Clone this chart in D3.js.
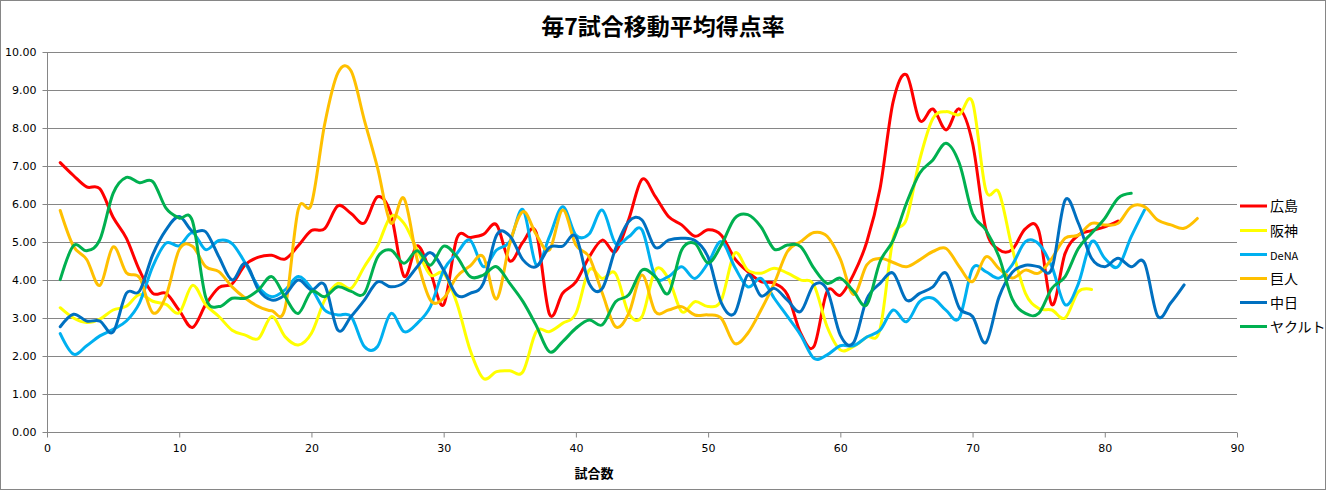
<!DOCTYPE html>
<html><head><meta charset="utf-8">
<script src="https://cdn.jsdelivr.net/npm/d3@7"></script>
<style>
html,body{margin:0;padding:0;background:#fff;}
svg{display:block;}
</style></head>
<body>
<svg id="chart" width="1327" height="491"></svg>
<script>
const title = "毎7試合移動平均得点率";
const xAxisTitle = "試合数";
const seriesNames = ["広島", "阪神", "DeNA", "巨人", "中日", "ヤクルト"];
const seriesColors = ["#FF0000", "#FFFF00", "#00B0F0", "#FFC000", "#0070C0", "#00B050"];
const xTicks = [0, 10, 20, 30, 40, 50, 60, 70, 80, 90];
const yTicks = [0, 1, 2, 3, 4, 5, 6, 7, 8, 9, 10];

const hiroshima = [7.09,6.75,6.45,6.4,5.65,5.1,4.25,3.65,3.65,3.2,2.75,3.35,3.8,3.9,4.4,4.6,4.65,4.55,4.9,5.3,
5.35,5.95,5.75,5.5,6.19,5.75,4.1,4.9,4.2,3.35,5.1,5.12,5.2,5.45,4.5,5.0,5.25,3.1,3.65,3.95,
4.6,5.05,4.75,5.6,6.65,6.2,5.67,5.45,5.15,5.32,5.18,4.57,4.22,3.96,3.91,3.61,2.6,2.25,3.7,3.6,
4.15,5.0,6.4,8.7,9.4,8.2,8.5,7.95,8.5,7.6,5.35,4.8,4.8,5.35,5.3,3.35,4.7,5.18,5.3,5.4,5.55];
const hanshin = [3.27,3.0,2.88,2.97,3.21,3.31,3.62,3.44,3.36,3.14,3.86,3.35,3.04,2.68,2.55,2.46,3.04,2.51,2.29,2.6,
3.47,3.91,3.78,4.35,4.9,5.67,5.49,4.79,4.13,4.18,3.39,2.16,1.41,1.59,1.61,1.59,2.64,2.64,2.86,3.12,
4.26,4.04,4.17,3.12,3.04,4.26,4.04,3.17,3.43,3.3,3.47,4.7,4.26,4.18,4.31,4.18,4.0,3.87,2.77,2.16,
2.25,2.5,2.7,5.1,5.6,7.16,8.25,8.43,8.35,8.68,6.37,6.3,4.83,3.65,3.25,3.21,3.0,3.69,3.75];
const dena = [2.59,2.05,2.27,2.53,2.7,2.92,3.4,4.36,4.97,4.9,5.24,4.8,5.04,4.96,4.44,3.82,3.56,3.74,4.09,3.78,
3.21,3.08,3.04,2.25,2.25,3.12,2.64,2.86,3.3,4.26,4.7,5.05,4.35,4.79,5.01,5.85,4.4,5.14,5.93,5.18,
5.21,5.84,4.96,5.14,5.32,4.09,4.09,4.35,4.04,4.45,5.01,4.35,3.82,4.04,3.52,3.04,2.55,1.94,2.03,2.27,
2.27,2.5,2.68,3.21,2.9,3.43,3.52,3.2,3.0,4.3,4.22,4.05,4.4,5.01,4.95,4.35,3.35,3.9,5.01,4.57,
4.35,5.14,5.84];
const kyojin = [5.83,4.89,4.54,3.86,4.87,4.19,4.06,3.14,3.58,4.8,4.89,4.35,4.22,3.82,3.52,3.3,3.19,3.25,5.85,6.0,
8.1,9.45,9.5,8.21,6.95,5.5,6.15,4.53,3.47,3.52,4.09,4.37,4.61,3.5,4.96,5.8,5.2,4.79,5.84,4.92,
4.61,3.65,2.77,3.12,4.13,3.17,3.21,3.3,3.08,3.08,2.99,2.33,2.6,3.21,3.91,4.75,5.01,5.25,5.15,4.55,
3.62,4.4,4.57,4.46,4.35,4.53,4.75,4.83,4.35,3.96,4.61,4.3,4.05,4.26,4.18,4.57,5.1,5.18,5.49,5.45,
5.49,5.93,5.93,5.58,5.45,5.36,5.62];
const chunichi = [2.77,3.1,2.92,2.92,2.63,3.65,3.71,4.67,5.32,5.67,5.28,5.27,4.61,4.0,4.44,3.74,3.47,3.61,4.0,3.74,
3.87,2.68,3.04,3.47,3.95,3.82,3.93,4.35,4.72,4.26,3.6,3.65,3.91,5.18,5.16,4.53,4.35,4.86,4.89,5.14,
3.91,3.78,4.83,5.54,5.58,4.86,5.05,5.1,5.04,4.6,3.4,3.12,4.13,3.58,3.78,3.47,3.17,3.87,3.74,2.55,
2.35,3.5,3.91,4.18,3.47,3.65,3.82,4.18,3.26,3.04,2.35,3.55,4.2,4.39,4.35,4.3,6.1,5.5,4.57,4.35,
4.57,4.35,4.45,3.05,3.4,3.87];
const yakult = [4.01,4.9,4.77,5.06,6.28,6.7,6.56,6.59,5.89,5.63,5.55,3.55,3.3,3.52,3.52,3.74,4.09,3.56,3.12,3.7,
3.56,3.82,3.7,3.65,4.6,4.79,4.44,4.77,4.39,4.89,4.61,4.09,4.13,4.35,3.91,3.43,2.8,2.11,2.38,2.73,
2.95,2.82,3.43,3.61,4.26,4.09,3.65,4.79,4.96,4.45,4.92,5.62,5.72,5.4,4.81,4.92,4.88,4.31,3.91,4.05,
3.7,3.35,4.48,5.05,6.02,6.81,7.16,7.6,7.07,5.75,5.32,4.61,3.5,3.12,3.12,3.78,4.09,4.83,5.23,5.62,
6.15,6.28];

const seriesValues = [hiroshima, hanshin, dena, kyojin, chunichi, yakult];

const svg = d3.select("#chart");
const W = 1327, H = 491;
const m = {left: 47, right: 1237, top: 52, bottom: 432};
const grid = "#868686";
const tickFont = "'DejaVu Sans', Verdana, sans-serif";
const cjkFont = "'Noto Sans CJK JP', 'Noto Sans', sans-serif";

// chart border
svg.append("rect").attr("x", 0.5).attr("y", 0.5).attr("width", W - 2).attr("height", H - 2)
  .attr("fill", "#fff").attr("stroke", "#868686").attr("stroke-width", 1);

const x = d3.scaleLinear().domain([0, 90]).range([m.left, m.right]);
const y = d3.scaleLinear().domain([0, 10]).range([m.bottom, m.top]);

// gridlines
svg.append("g").selectAll("line").data(yTicks.filter(d => d > 0)).join("line")
  .attr("x1", m.left).attr("x2", m.right)
  .attr("y1", d => Math.round(y(d)) + 0.5).attr("y2", d => Math.round(y(d)) + 0.5)
  .attr("stroke", grid).attr("stroke-width", 1);

// y axis
const yAxis = svg.append("g").attr("transform", `translate(${m.left + 0.5},0)`)
  .call(d3.axisLeft(y).tickValues(yTicks).tickFormat(d3.format(".2f")).tickSize(5).tickPadding(6));
yAxis.select(".domain").attr("stroke", grid).attr("d", `M0,${m.top}V${m.bottom}`);
yAxis.selectAll(".tick line").attr("stroke", grid);
yAxis.selectAll("text").attr("font-family", tickFont).attr("font-size", 11).attr("fill", "#000");

// x axis
const xAxis = svg.append("g").attr("transform", `translate(0,${m.bottom + 0.5})`)
  .call(d3.axisBottom(x).tickValues(xTicks).tickFormat(d3.format("d")).tickSize(5).tickPadding(7));
xAxis.select(".domain").attr("stroke", grid).attr("d", `M${m.left},0H${m.right}`);
xAxis.selectAll(".tick line").attr("stroke", grid);
xAxis.selectAll("text").attr("font-family", tickFont).attr("font-size", 11).attr("fill", "#000");

// series lines
const line = d3.line()
  .x((d, i) => x(i + 1))
  .y(d => y(d))
  .curve(d3.curveCatmullRom.alpha(0));

svg.append("g").selectAll("path").data(seriesValues).join("path")
  .attr("d", d => line(d))
  .attr("fill", "none")
  .attr("stroke", (d, i) => seriesColors[i])
  .attr("stroke-width", 3)
  .attr("stroke-linejoin", "round")
  .attr("stroke-linecap", "round");

// title
svg.append("text").attr("x", 663).attr("y", 35).attr("text-anchor", "middle")
  .attr("font-family", cjkFont).attr("font-weight", "bold").attr("font-size", 23)
  .attr("fill", "#000").text(title);

// x axis title
svg.append("text").attr("x", 594).attr("y", 478).attr("text-anchor", "middle")
  .attr("font-family", cjkFont).attr("font-weight", "bold").attr("font-size", 13)
  .attr("fill", "#000").text(xAxisTitle);

// legend
const legY = [206, 230.5, 254.5, 278.5, 302.5, 326.5];
const leg = svg.append("g").selectAll("g").data(seriesNames).join("g")
  .attr("transform", (d, i) => `translate(1240,${legY[i]})`);
leg.append("line").attr("x1", 0).attr("x2", 27).attr("y1", 0).attr("y2", 0)
  .attr("stroke", (d, i) => seriesColors[i]).attr("stroke-width", 3);
leg.append("text").attr("x", 30).attr("y", 5)
  .attr("font-family", cjkFont).attr("font-size", d => d === "DeNA" ? 11 : 14)
  .attr("fill", "#000").text(d => d);
</script>
</body></html>
